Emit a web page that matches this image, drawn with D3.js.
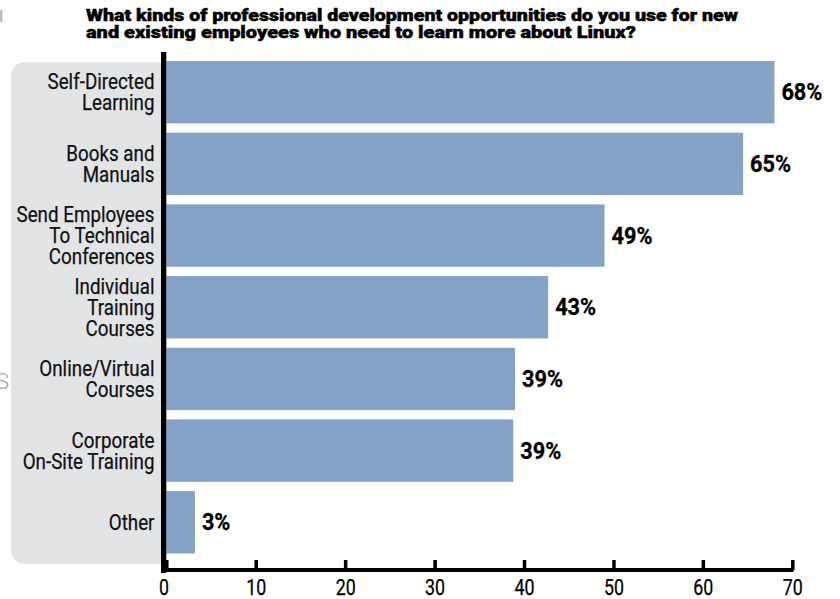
<!DOCTYPE html>
<html>
<head>
<meta charset="utf-8">
<script src="https://cdn.jsdelivr.net/npm/d3@7"></script>
<style>
  body { margin: 0; background: #fff; }
  svg { display: block; }
  text { font-family: Roboto, "Liberation Sans", sans-serif; }
</style>
</head>
<body>
<svg id="chart" width="840" height="599"></svg>
<script>
// data
let categories = [
    ["Self-Directed", "Learning"],
    ["Books and", "Manuals"],
    ["Send Employees", "To Technical", "Conferences"],
    ["Individual", "Training", "Courses"],
    ["Online/Virtual", "Courses"],
    ["Corporate", "On-Site Training"],
    ["Other"]
];
let values = [68, 64.5, 49, 42.7, 39, 38.8, 3.2];
let valueLabels = ["68%", "65%", "49%", "43%", "39%", "39%", "3%"];
let tickValues = [0, 10, 20, 30, 40, 50, 60, 70];
let titleLines = [
    "What kinds of professional development opportunities do you use for new",
    "and existing employees who need to learn more about Linux?"
];

let svg = d3.select("#chart");

let x = d3.scaleLinear().domain([0, 70]).range([166.3, 792.3]);
let y = d3.scaleBand()
    .domain(d3.range(categories.length))
    .range([61, 553.5])
    .paddingInner(0.13)
    .paddingOuter(0);

// squeeze text horizontally, the original uses a condensed face
function condense(sel, factor) {
    sel.each(function() {
        let w = this.getComputedTextLength();
        d3.select(this)
            .attr("textLength", w * factor)
            .attr("lengthAdjust", "spacingAndGlyphs");
    });
}
function measure(txt, size, weight) {
    let t = svg.append("text").style("font-size", size).style("font-weight", weight).text(txt);
    let w = t.node().getComputedTextLength();
    t.remove();
    return w;
}

// bits of the neighbouring page that got cropped in
svg.append("rect").attr("x", 0).attr("y", 10).attr("width", 2.5).attr("height", 12).attr("fill", "#bdbdbd");
svg.append("text")
    .attr("x", 9).attr("y", 389)
    .attr("text-anchor", "end")
    .style("font-size", "22px")
    .style("font-weight", 300)
    .attr("fill", "#a3a3a3")
    .text("S");

// grey label panel, rounded on the left only
let px0 = 11, px1 = 163, py0 = 62, py1 = 564, r = 14;
svg.append("path")
    .attr("d", `M${px1},${py0} H${px0 + r} A${r},${r} 0 0 0 ${px0},${py0 + r} V${py1 - r} A${r},${r} 0 0 0 ${px0 + r},${py1} H${px1} Z`)
    .attr("fill", "#e3e4e6");

// title
svg.selectAll(".title")
    .data(titleLines)
    .enter()
    .append("text")
    .attr("class", "title")
    .attr("x", 86)
    .attr("y", (d, i) => 21 + i * 17)
    .attr("textLength", (d, i) => i == 0 ? 652 : 550)
    .attr("lengthAdjust", "spacingAndGlyphs")
    .style("font-weight", "900")
    .style("font-size", "16.5px")
    .attr("fill", "#000")
    .attr("stroke", "#000")
    .attr("stroke-width", 0.45)
    .text(d => d);

// bars
svg.selectAll(".bar")
    .data(values)
    .enter()
    .append("rect")
    .attr("class", "bar")
    .attr("x", x(0))
    .attr("y", (d, i) => y(i))
    .attr("width", d => x(d) - x(0))
    .attr("height", y.bandwidth())
    .attr("fill", "#84a2c6");

// value labels
let valFactor = 41 / measure("68%", "24px", "bold");
svg.selectAll(".val")
    .data(values)
    .enter()
    .append("text")
    .attr("class", "val")
    .attr("x", d => x(d) + 7)
    .attr("y", (d, i) => y(i) + y.bandwidth() / 2 + 8)
    .style("font-weight", "bold")
    .style("font-size", "24px")
    .attr("fill", "#000")
    .attr("stroke", "#000")
    .attr("stroke-width", 0.3)
    .text((d, i) => valueLabels[i])
    .call(condense, valFactor);

// category labels, one text per line
let lineH = 21, capH = 15.5;
let catFactor = 107 / measure("Self-Directed", "22px", "normal");
let catLines = [];
categories.forEach((lines, i) => {
    let mid = y(i) + y.bandwidth() / 2;
    let first = mid - ((lines.length - 1) * lineH + capH) / 2 + capH;
    lines.forEach((l, j) => catLines.push({ text: l, y: first + j * lineH }));
});
svg.selectAll(".cat")
    .data(catLines)
    .enter()
    .append("text")
    .attr("class", "cat")
    .attr("text-anchor", "end")
    .attr("x", 154.5)
    .attr("y", d => d.y)
    .style("font-size", "22px")
    .attr("fill", "#111")
    .attr("stroke", "#111")
    .attr("stroke-width", 0.25)
    .text(d => d.text)
    .call(condense, catFactor);

// x axis
let axisY = 570;
let gx = svg.append("g")
    .attr("transform", `translate(0,${axisY})`)
    .call(d3.axisBottom(x).tickValues(tickValues).tickSizeInner(-10).tickSizeOuter(0).tickPadding(10));
gx.select(".domain").remove();
gx.selectAll(".tick line")
    .attr("stroke", "#000")
    .attr("stroke-width", 3.5)
    .attr("y1", 0);
let tickFactor = 20 / measure("40", "21.5px", "normal");
gx.selectAll(".tick text")
    .attr("fill", "#000")
    .attr("stroke", "#000")
    .attr("stroke-width", 0.25)
    .attr("x", d => d == 0 ? -2.7 : 0)
    .style("font-family", "Roboto, sans-serif")
    .style("font-size", "21.5px")
    .call(condense, tickFactor);

// axis lines
svg.append("rect").attr("x", 161).attr("y", axisY - 2).attr("width", 793.5 - 161).attr("height", 4).attr("fill", "#000");
svg.append("rect").attr("x", 161).attr("y", 52).attr("width", 5.3).attr("height", 521).attr("fill", "#000");
</script>
</body>
</html>
